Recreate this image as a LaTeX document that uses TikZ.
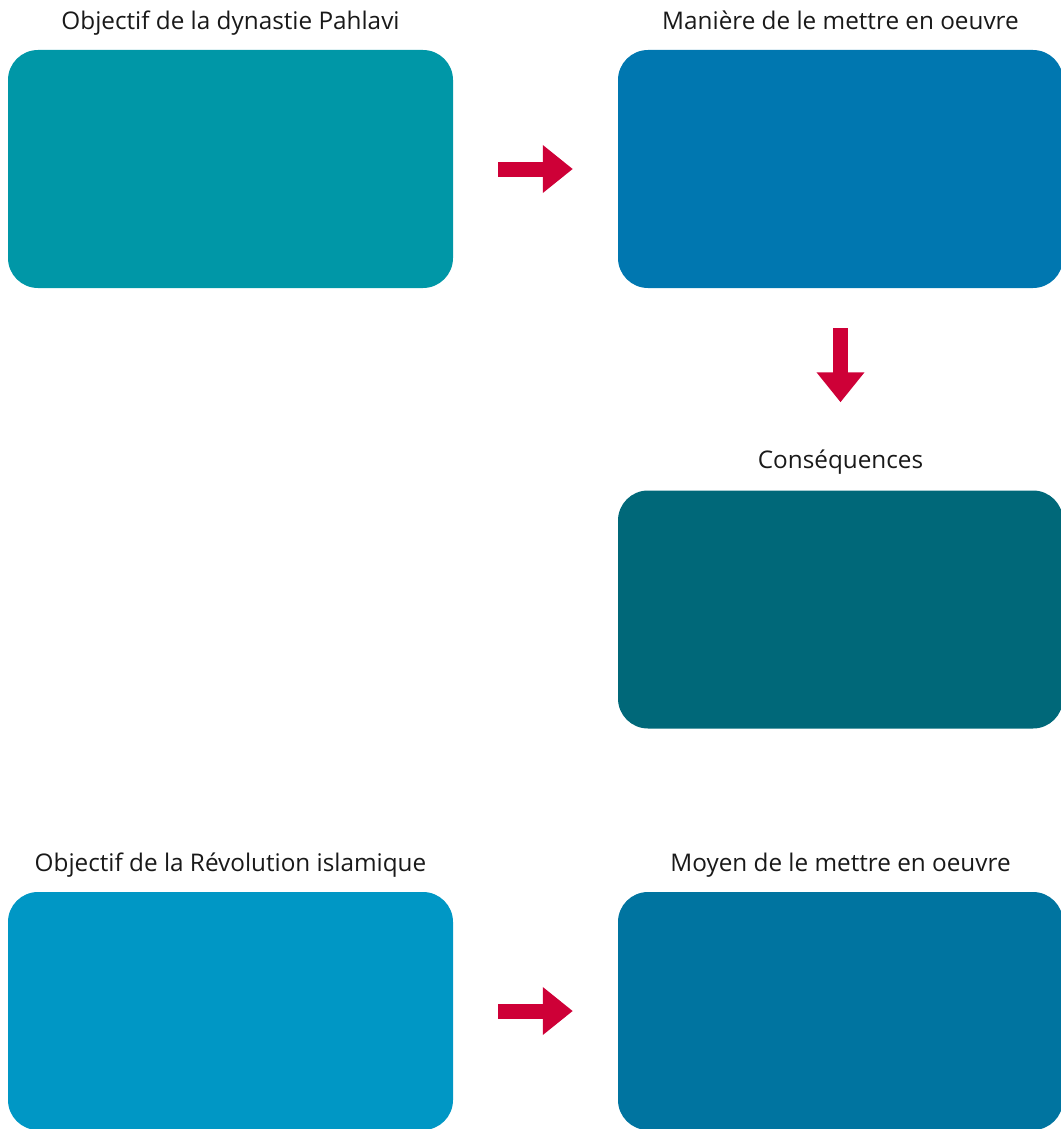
\documentclass[tikz,border=0pt]{standalone}
\usepackage{fontspec}
\setmainfont{Open Sans}
\usepackage{xcolor}
\usetikzlibrary{positioning,arrows.meta}

\definecolor{pahlavi}{RGB}{0,151,167}
\definecolor{maniere}{RGB}{0,119,176}
\definecolor{consequ}{RGB}{0,104,121}
\definecolor{revol}{RGB}{0,151,197}
\definecolor{moyen}{RGB}{0,116,160}
\definecolor{arrowred}{RGB}{206,0,55}

\begin{document}
\begin{tikzpicture}[
  x=1pt, y=-1pt,
  box/.style={rounded corners=30pt, minimum width=445pt, minimum height=238pt, inner sep=0pt},
  title/.style={font=\fontsize{24.3}{29}\selectfont, text=black!90, inner sep=0pt},
  bigarrow/.style={-{Triangle[length=30pt,width=46pt]}, line width=15pt, draw=arrowred}
]
\useasboundingbox (0,0) rectangle (1060,1129);

\node[box, fill=pahlavi] (pahlavi) at (230.5,169) {};
\node[box, fill=maniere] (maniere) at (840.5,169) {};
\node[box, fill=consequ] (consequ) at (840.5,609.5) {};
\node[box, fill=revol] (revol) at (230.5,1011) {};
\node[box, fill=moyen] (moyen) at (840.5,1011) {};

\node[title, above=20pt of pahlavi, anchor=base] (tpahlavi) {Objectif de la dynastie Pahlavi};
\node[title, above=20pt of maniere, anchor=base] (tmaniere) {Manière de le mettre en oeuvre};
\node[title, above=22pt of consequ, anchor=base] (tconsequ) {Conséquences};
\node[title, above=20pt of revol, anchor=base] (trevol) {Objectif de la Révolution islamique};
\node[title, above=20pt of moyen, anchor=base] (tmoyen) {Moyen de le mettre en oeuvre};

\draw[bigarrow, shorten <=45pt, shorten >=45pt] (pahlavi) -- (maniere);
\draw[bigarrow, shorten <=40pt, shorten >=88pt] (maniere) -- (consequ);
\draw[bigarrow, shorten <=45pt, shorten >=45pt] (revol) -- (moyen);

\end{tikzpicture}
\end{document}
